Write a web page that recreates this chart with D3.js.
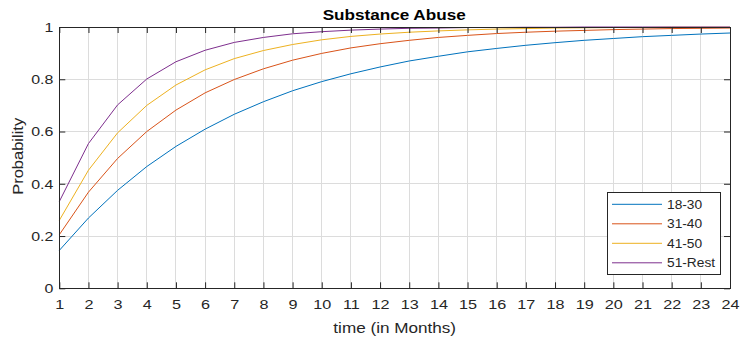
<!DOCTYPE html>
<html><head><meta charset="utf-8">
<script src="https://cdn.jsdelivr.net/npm/d3@7"></script>
<style>body{margin:0;background:#fff}svg{display:block}text{font-family:Arial,"Liberation Sans",Helvetica,sans-serif;fill:#262626}</style>
</head><body><div id="chart"></div>
<script>
const months = [1,2,3,4,5,6,7,8,9,10,11,12,13,14,15,16,17,18,19,20,21,22,23,24];
const seriesNames = ["18-30","31-40","41-50","51-Rest"];
const age18_30 = [0.145,0.269,0.375,0.466,0.543,0.609,0.666,0.714,0.756,0.791,0.821,0.847,0.870,0.888,0.905,0.918,0.930,0.940,0.949,0.956,0.963,0.968,0.973,0.977];
const age31_40 = [0.205,0.368,0.497,0.600,0.682,0.748,0.799,0.840,0.873,0.899,0.920,0.936,0.949,0.960,0.968,0.975,0.980,0.984,0.987,0.990,0.992,0.994,0.995,0.996];
const age41_50 = [0.260,0.452,0.595,0.700,0.778,0.836,0.879,0.910,0.933,0.951,0.964,0.973,0.980,0.985,0.989,0.992,0.994,0.996,0.997,0.998,0.998,0.999,0.999,0.999];
const age51_rest = [0.332,0.554,0.702,0.801,0.867,0.911,0.941,0.960,0.974,0.982,0.988,0.992,0.995,0.996,0.998,0.998,0.999,0.999,1.000,1.000,1.000,1.000,1.000,1.000];
const yTicks = [0,0.2,0.4,0.6,0.8,1];
const yTickLabels = ["0","0.2","0.4","0.6","0.8","1"];
const colors = ["#0072BD","#D95319","#EDB120","#7E2F8E"];
const allSeries = [age18_30, age31_40, age41_50, age51_rest];

const W = 744, H = 337;
const L = 59.3, R = 730, T = 27, B = 288.3;
const svg = d3.select("#chart").append("svg").attr("width", W).attr("height", H);
const x = d3.scaleLinear().domain([1,24]).range([L,R]);
const y = d3.scaleLinear().domain([0,1]).range([B,T]);
const axisCol = "#262626";

function stretch(sel, f){
  sel.each(function(){
    const w = this.getComputedTextLength();
    this.setAttribute("textLength", w*f);
    this.setAttribute("lengthAdjust","spacingAndGlyphs");
  });
}

// grid
const g = svg.append("g");
g.selectAll("line.vx").data(months).enter().append("line")
  .attr("x1", d=>x(d)).attr("x2", d=>x(d)).attr("y1", T).attr("y2", B)
  .attr("stroke", "#dcdcdc").attr("stroke-width", 1).attr("shape-rendering","crispEdges");
g.selectAll("line.hy").data(yTicks).enter().append("line")
  .attr("y1", d=>y(d)).attr("y2", d=>y(d)).attr("x1", L).attr("x2", R)
  .attr("stroke", "#dcdcdc").attr("stroke-width", 1).attr("shape-rendering","crispEdges");

// lines
const line = d3.line().x((d,i)=>x(months[i])).y(d=>y(d));
allSeries.forEach((s,k)=>{
  svg.append("path").datum(s).attr("d", line).attr("fill","none")
    .attr("stroke", colors[k]).attr("stroke-width", 1);
});

// axes
const tl = 6;
const xb = d3.axisBottom(x).tickValues(months).tickSize(-tl).tickPadding(11).tickFormat(d3.format("d"));
const xt = d3.axisTop(x).tickValues(months).tickSize(-tl).tickFormat("");
const yl = d3.axisLeft(y).tickValues(yTicks).tickSize(-tl).tickPadding(6).tickFormat((d,i)=>yTickLabels[i]);
const yr = d3.axisRight(y).tickValues(yTicks).tickSize(-tl).tickFormat("");
function style(sel){
  sel.selectAll("path.domain").attr("stroke", axisCol).attr("stroke-width",1);
  sel.selectAll(".tick line").attr("stroke", axisCol);
  sel.selectAll("text").style("font-family","Arial, 'Liberation Sans', sans-serif").style("font-size","13.5px").attr("fill", axisCol);
}
const gx = svg.append("g").attr("transform",`translate(0,${B})`).call(xb).call(style);
svg.append("g").attr("transform",`translate(0,${T})`).call(xt).call(style);
const gy = svg.append("g").attr("transform",`translate(${L},0)`).call(yl).call(style);
svg.append("g").attr("transform",`translate(${R},0)`).call(yr).call(style);
svg.selectAll("path.domain").attr("shape-rendering","crispEdges");
stretch(gx.selectAll("text"), 1.2);
stretch(gy.selectAll("text"), 1.18);

// title & labels
const title = svg.append("text").attr("x", 394.2).attr("y", 20).attr("text-anchor","middle")
  .style("font-weight","bold").style("font-size","15px").style("fill","#000").text("Substance Abuse");
title.attr("textLength", 143).attr("lengthAdjust","spacingAndGlyphs");
svg.append("text").attr("x", 394.7).attr("y", 333).attr("text-anchor","middle")
  .style("font-size","14.5px").text("time (in Months)")
  .attr("textLength", 122.7).attr("lengthAdjust","spacingAndGlyphs");
svg.append("text").attr("transform",`translate(22.5,156.3) rotate(-90)`).attr("text-anchor","middle")
  .style("font-size","15px").text("Probability")
  .attr("textLength", 77).attr("lengthAdjust","spacingAndGlyphs");

// legend
const lg = svg.append("g");
lg.append("rect").attr("x",607.5).attr("y",192.5).attr("width",113).attr("height",82)
  .attr("fill","#fff").attr("stroke",axisCol).attr("stroke-width",1);
seriesNames.forEach((n,k)=>{
  const yy = 204.3 + k*19.5;
  lg.append("line").attr("x1",612).attr("x2",662).attr("y1",yy).attr("y2",yy)
    .attr("stroke",colors[k]).attr("stroke-width",1);
  const t = lg.append("text").attr("x",667).attr("y",yy+4.5).style("font-size","12.5px").text(n);
  stretch(t, 1.1);
});
</script></body></html>
